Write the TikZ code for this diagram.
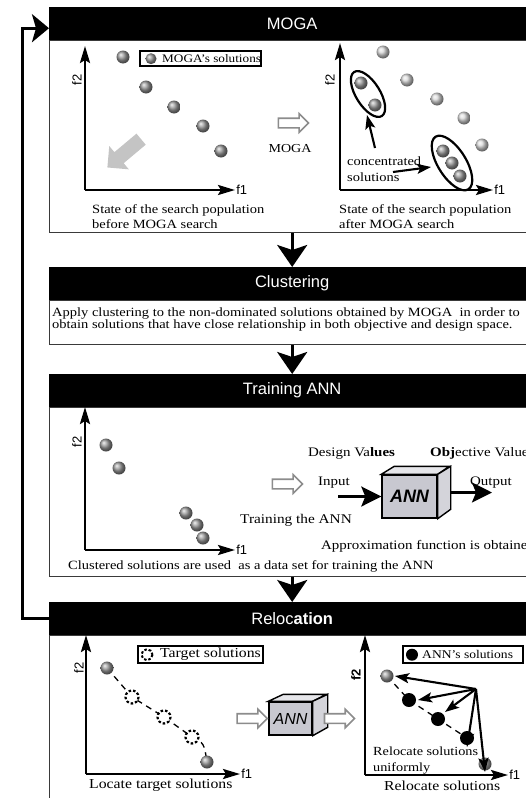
\documentclass[tikz,border=0pt]{standalone}
\usepackage{fontspec}
\setmainfont{Liberation Serif}[FakeStretch=1.15]
\setsansfont{Liberation Sans}
\usetikzlibrary{arrows.meta, positioning, shapes.arrows, calc}
\definecolor{annface}{HTML}{C8C8D0}
\definecolor{anntopc}{HTML}{E6E6EA}
\definecolor{annsidec}{HTML}{D4D4DA}
\definecolor{hollowgray}{HTML}{8C8C8C}
\definecolor{fatgray}{HTML}{C4C4C4}
\definecolor{boxline}{HTML}{3A3A3A}

\begin{document}
\begin{tikzpicture}[
    x=1pt, y=-1pt,
    >=Stealth,
    inner sep=0pt,
    font=\fontsize{12.6}{15}\selectfont,
    header/.style={
        fill=black, text=white, anchor=north west,
        minimum width=486pt, minimum height=33pt,
        font=\sffamily\fontsize{16.5}{16.5}\selectfont,
    },
    panelbody/.style={
        draw=boxline, fill=white, line width=1pt,
        minimum width=486pt, below=0pt of #1,
    },
    flow/.style={-{Stealth[width=30pt, length=22pt, inset=5pt]}, line width=3pt},
    loopback/.style={-{Stealth[width=28pt, length=17pt, inset=4pt]}, line width=3pt},
    axis/.style={-{Stealth[width=10pt, length=17pt, inset=3pt]}, line width=2.6pt},
    axlabel/.style={font=\sffamily\fontsize{13}{13}\selectfont},
    darkdot/.style={ball color=gray!80},
    lightdot/.style={ball color=gray!30},
    legendbox/.style={draw, line width=2.4pt, anchor=north west},
    hollowarr/.style={
        single arrow, draw=hollowgray, line width=1.6pt, fill=white,
        inner xsep=0pt, inner ysep=4pt,
        minimum height=30pt, single arrow head extend=4.5pt,
    },
    pointer/.style={-{Stealth[width=10pt, length=14pt, inset=3pt]}, line width=2.1pt},
    ioarr/.style={-{Stealth[width=20pt, length=20pt, inset=4pt]}, line width=2.6pt},
    annbox/.style={draw, line width=1.4pt, fill=annface},
    anntop/.style={draw, line width=1.4pt, fill=anntopc},
    annside/.style={draw, line width=1.4pt, fill=annsidec},
    trail/.style={dash pattern=on 6pt off 5pt, line width=1.3pt},
    tgtcirc/.style={dash pattern=on 2.5pt off 2pt, line width=2.2pt},
]

\useasboundingbox (0,0) rectangle (526,798);
\clip (0,0) rectangle (526,798);
\fill[white] (0,0) rectangle (526,798);

% Panels
\node[header] (mogahead) at (49,7) {MOGA};
\node[panelbody=mogahead, minimum height=192pt] (mogabody) {};
\node[header] (clusthead) at (49,267) {Clustering};
\node[panelbody=clusthead, minimum height=44pt] (clustbody) {};
\node[header] (trainhead) at (49,374) {Training ANN};
\node[panelbody=trainhead, minimum height=169pt] (trainbody) {};
\node[header] (relochead) at (49,602) {Reloc\textbf{ation}};
\node[panelbody=relochead, minimum height=175pt] (relocbody) {};

% Flow between panels
\draw[flow] (mogabody.south) -- (clusthead.north);
\draw[flow] (clustbody.south) -- (trainhead.north);
\draw[flow] (trainbody.south) -- (relochead.north);

% Feedback loop
\coordinate (loopx) at (22,0);
\draw[loopback] (relochead.west) -- (relochead.west -| loopx) |- ([yshift=-4.5pt]mogahead.west);

% ---- MOGA panel ----
\coordinate (mogaLo) at (85,190);
\draw[axis] (mogaLo) -- ++(0,-144);
\draw[axis] (mogaLo) -- ++(150,0) node[axlabel, anchor=west] (mogaLf1) {f1};
\node[axlabel, rotate=90] (mogaLf2) at (77,80) {f2};
\foreach \p in {(123,57), (146,87), (174,107), (203,126), (221,151)}
    \shade[darkdot] \p circle (6.5);
\node[legendbox, minimum width=121pt, minimum height=15pt] (mogaleg) at (139,50) {};
\shade[darkdot] ([xshift=12pt]mogaleg.west) circle (5.5);
\node[anchor=west, font=\fontsize{11.5}{12}\selectfont] (mogalegtxt) at ([xshift=23pt]mogaleg.west) {MOGA's solutions};
\node[single arrow, fill=fatgray, rotate=220, inner xsep=0pt, inner ysep=7pt, minimum height=44pt,
    single arrow head extend=8pt] (mogadir) at (127,151) {};
\node[anchor=north west, align=left] (mogacapL) at (92,204.5) {State of the search population\\before MOGA search};

\node[hollowarr] (mogastep) at (291,123) {};
\node[font=\fontsize{12.2}{13}\selectfont] (mogasteplbl) at (290,148.5) {MOGA};

\coordinate (mogaRo) at (340,190);
\draw[axis] (mogaRo) -- ++(0,-147);
\draw[axis] (mogaRo) -- ++(153,0) node[axlabel, anchor=west] (mogaRf1) {f1};
\node[axlabel, rotate=90] (mogaRf2) at (330,80) {f2};
\foreach \p in {(383,52), (407,80), (437,99), (464,118), (482,145)}
    \shade[lightdot] \p circle (6.5);
\foreach \p in {(361,83), (375,105), (443,151), (452,163), (460,176)}
    \shade[darkdot] \p circle (6.5);
\coordinate (clusA) at (368,94);
\coordinate (clusB) at (452,163);
\draw[line width=2.2pt, rotate around={32:(clusA)}] (clusA) ellipse (12 and 26);
\draw[line width=2.2pt, rotate around={32:(clusB)}] (clusB) ellipse (14 and 31);
\node[anchor=north west, align=left, font=\fontsize{12.6}{16}\selectfont] (conctxt) at (347,157) {concentrated\\solutions};
\coordinate (concA) at (375,148);
\coordinate (concB) at (393,172);
\draw[pointer] (concA) -- ([shift={(-1,21)}]clusA);
\draw[pointer] (concB) -- ([shift={(-21,4)}]clusB);
\node[anchor=north west, align=left] (mogacapR) at (339,204.5) {State of the search population\\after MOGA search};

% ---- Clustering panel ----
\node[anchor=north west, align=left, font=\fontsize{12.6}{12}\selectfont] (clusttxt) at (52,308)
    {Apply clustering to the non-dominated solutions obtained by MOGA\ \ in order to\\
     obtain solutions that have close relationship in both objective and design space.};

% ---- Training panel ----
\coordinate (trainLo) at (85,550);
\draw[axis] (trainLo) -- ++(0,-143);
\draw[axis] (trainLo) -- ++(150,0) node[axlabel, anchor=west] (trainf1) {f1};
\node[axlabel, rotate=90] (trainf2) at (77,442) {f2};
\foreach \p in {(106,445), (119,468), (186,513), (197,525), (203,538)}
    \shade[darkdot] \p circle (6.5);
\node[anchor=north west] (traincap) at (68,560) {Clustered solutions are used\ \ as a data set for training the ANN};
\node[hollowarr] (trainstep) at (285,484) {};

\node[annbox, minimum width=55pt, minimum height=43pt,
    font=\sffamily\bfseries\itshape\fontsize{18}{18}\selectfont] (trainann) at (409.5,496.5) {ANN};
\filldraw[anntop] (trainann.north west) -- ++(13,-8) -- ++(55,0) -- (trainann.north east) -- cycle;
\filldraw[annside] (trainann.north east) -- ++(13,-8) -- ++(0,43) -- (trainann.south east) -- cycle;
\coordinate (inpstart) at (338,496.5);
\draw[ioarr] (inpstart) -- (trainann.west);
\coordinate (outend) at (492,492.5);
\draw[ioarr] ($(trainann.east)+(13,-4)$) -- (outend);
\node[anchor=north west, font=\fontsize{13}{15}\selectfont] (dvlbl) at (308,447) {Design Va\textbf{lues}};
\node[anchor=north west, font=\fontsize{13}{15}\selectfont] (ovlbl) at (430,447) {\textbf{Obj}ective Values};
\node[anchor=north west, font=\fontsize{13}{15}\selectfont] (inplbl) at (318,477) {Input};
\node[anchor=north west, font=\fontsize{13}{15}\selectfont] (outlbl) at (470,477) {Output};
\node[anchor=north west, font=\fontsize{13.3}{15}\selectfont] (trainlbl) at (240,514) {Training the ANN};
\node[anchor=north west, font=\fontsize{13}{15}\selectfont] (approxlbl) at (321,540) {Approximation function is obtained};

% ---- Relocation panel ----
\coordinate (relocLo) at (86,774);
\draw[axis] (relocLo) -- ++(0,-139);
\draw[axis] (relocLo) -- ++(154,0) node[axlabel, anchor=west] (relocLf1) {f1};
\node[axlabel, rotate=90] (relocLf2) at (79,668) {f2};
\coordinate (lg1) at (107,668);
\coordinate (lt1) at (132,697);
\coordinate (lt2) at (164,717);
\coordinate (lt3) at (192,737);
\coordinate (lg2) at (207,762);
\draw[trail] (lg1) -- (lt1) -- (lt2) -- (lt3) .. controls (204,743) .. (lg2);
\foreach \p in {lt1, lt2, lt3}
    \filldraw[tgtcirc, fill=white] (\p) circle (6.5);
\shade[darkdot] (lg1) circle (6.5);
\shade[darkdot] (lg2) circle (6.5);
\node[legendbox, minimum width=125pt, minimum height=17pt] (tgtleg) at (137,645) {};
\draw[tgtcirc, line width=2pt] ([xshift=10pt]tgtleg.west) circle (5.5);
\node[anchor=west, font=\fontsize{13.7}{14}\selectfont] (tgtlegtxt) at ([xshift=23pt]tgtleg.west) {Target solutions};
\node[anchor=north west, font=\fontsize{13.7}{15}\selectfont] (relocLcap) at (89,779) {Locate target solutions};

\node[annbox, minimum width=43pt, minimum height=33pt,
    font=\sffamily\itshape\fontsize{16}{16}\selectfont] (relocann) at (290.5,718.5) {ANN};
\filldraw[anntop] (relocann.north west) -- ++(15,-7) -- ++(43,0) -- (relocann.north east) -- cycle;
\filldraw[annside] (relocann.north east) -- ++(15,-7) -- ++(0,33) -- (relocann.south east) -- cycle;
\node[hollowarr, anchor=east] (relocin) at (relocann.west) {};
\node[hollowarr, anchor=west] (relocout) at ([xshift=11pt]relocann.east) {};

\coordinate (relocRo) at (365,775);
\draw[axis] (relocRo) -- ++(0,-140);
\draw[axis] (relocRo) -- ++(143,0) node[axlabel, anchor=west] (relocRf1) {f1};
\node[axlabel, font=\sffamily\bfseries\fontsize{13}{13}\selectfont, rotate=90] (relocRf2) at (356,675) {f2};
\coordinate (rg1) at (387,676);
\coordinate (rb1) at (409,700);
\coordinate (rb2) at (438,719);
\coordinate (rb3) at (467,738);
\coordinate (rg2) at (485,764);
\coordinate (hub) at (476,689);
\draw[trail] (rg1) -- (rb1) -- (rb2) -- (rb3);
\shade[darkdot] (rg1) circle (6.5);
\shade[darkdot] (rg2) circle (6.5);
\foreach \p in {rb1, rb2, rb3}
    \fill (\p) circle (7);
\draw[pointer] (hub) -- ([xshift=8pt]rg1);
\draw[pointer] (hub) -- ([xshift=9pt]rb1);
\draw[pointer] (hub) -- ([shift={(7,-7)}]rb2);
\draw[pointer] (hub) -- ([yshift=-9pt]rb3);
\draw[pointer] (hub) -- ([yshift=-8pt]rg2);
\node[legendbox, minimum width=120pt, minimum height=17pt] (annleg) at (402,645) {};
\fill ([xshift=10pt]annleg.west) circle (6);
\node[anchor=west, font=\fontsize{11.8}{12}\selectfont] (annlegtxt) at ([xshift=20pt]annleg.west) {ANN's solutions};
\node[anchor=north west, align=left, font=\fontsize{12.4}{16}\selectfont] (relocRtxt) at (373,747) {Relocate solutions\\uniformly};
\node[anchor=north west, font=\fontsize{13.7}{15}\selectfont] (relocRcap) at (384,781) {Relocate solutions};

\end{tikzpicture}
\end{document}
